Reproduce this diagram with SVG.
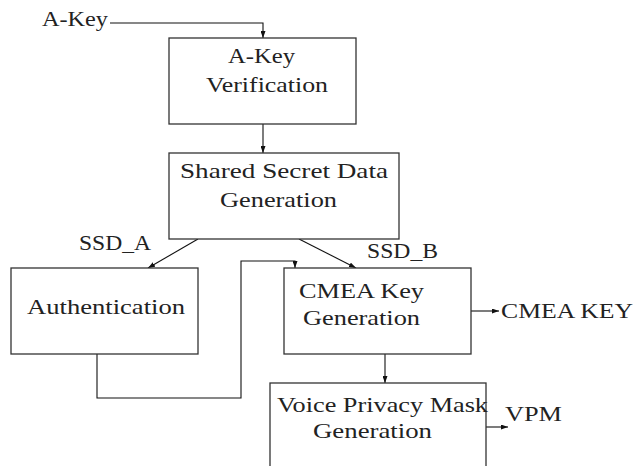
<svg xmlns="http://www.w3.org/2000/svg" width="639" height="466" viewBox="0 0 639 466">
<defs>
<marker id="ah" markerWidth="7" markerHeight="5" refX="7" refY="2.5" orient="auto" markerUnits="userSpaceOnUse">
<path d="M0,0 L7,2.5 L0,5 z" fill="#111"/>
</marker>
<style>
.box{fill:#fff;stroke:#333;stroke-width:1.3}
.ln{fill:none;stroke:#111;stroke-width:1.1}
text{font-family:"Liberation Serif","DejaVu Serif",serif;font-size:22px;fill:#222}
</style>
</defs>
<rect width="639" height="466" fill="#fff"/>
<g id="connectors">
<polyline class="ln" points="110,23 263,23 263,38" marker-end="url(#ah)"/>
<line class="ln" x1="263" y1="124" x2="263" y2="153" marker-end="url(#ah)"/>
<line class="ln" x1="198" y1="239" x2="148" y2="268" marker-end="url(#ah)"/>
<line class="ln" x1="299" y1="239" x2="356" y2="268" marker-end="url(#ah)"/>
<polyline class="ln" points="97,354 97,398 241,398 241,261 295,261 295,268" marker-end="url(#ah)"/>
<line class="ln" x1="471" y1="311" x2="499" y2="311" marker-end="url(#ah)"/>
<line class="ln" x1="385" y1="354" x2="385" y2="383" marker-end="url(#ah)"/>
<line class="ln" x1="486" y1="427" x2="508" y2="427" marker-end="url(#ah)"/>
</g>
<g id="labels">
<text x="42" y="26" textLength="66" lengthAdjust="spacingAndGlyphs">A-Key</text>
<text x="79" y="250" textLength="72" lengthAdjust="spacingAndGlyphs">SSD_A</text>
<text x="367" y="258" textLength="71" lengthAdjust="spacingAndGlyphs">SSD_B</text>
<text x="501" y="318" textLength="132" lengthAdjust="spacingAndGlyphs">CMEA KEY</text>
<text x="505" y="421" textLength="57" lengthAdjust="spacingAndGlyphs">VPM</text>
</g>
<g id="akey-verification">
<rect class="box" x="169" y="38" width="187" height="86"/>
<text x="228" y="63" textLength="67" lengthAdjust="spacingAndGlyphs">A-Key</text>
<text x="206" y="92" textLength="122" lengthAdjust="spacingAndGlyphs">Verification</text>
</g>
<g id="ssd-generation">
<rect class="box" x="169" y="153" width="230" height="86"/>
<text x="180" y="178" textLength="208" lengthAdjust="spacingAndGlyphs">Shared Secret Data</text>
<text x="220" y="207" textLength="117" lengthAdjust="spacingAndGlyphs">Generation</text>
</g>
<g id="authentication">
<rect class="box" x="11" y="268" width="187" height="86"/>
<text x="27" y="314" textLength="158" lengthAdjust="spacingAndGlyphs">Authentication</text>
</g>
<g id="cmea-key-generation">
<rect class="box" x="284" y="268" width="187" height="86"/>
<text x="299" y="298" textLength="125" lengthAdjust="spacingAndGlyphs">CMEA Key</text>
<text x="303" y="325" textLength="117" lengthAdjust="spacingAndGlyphs">Generation</text>
</g>
<g id="vpm-generation">
<rect class="box" x="270" y="383" width="216" height="90"/>
<text x="277" y="412" textLength="211" lengthAdjust="spacingAndGlyphs">Voice Privacy Mask</text>
<text x="313" y="438" textLength="119" lengthAdjust="spacingAndGlyphs">Generation</text>
</g>
</svg>
